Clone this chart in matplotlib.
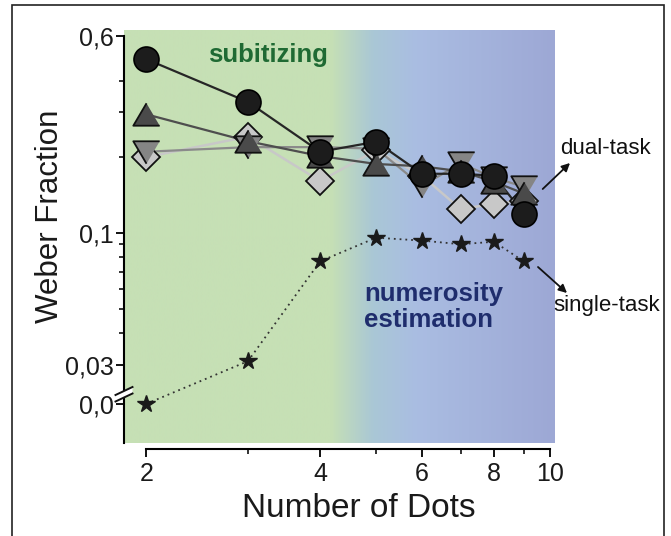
import numpy as np
import matplotlib
matplotlib.use('Agg')
import matplotlib.pyplot as plt
from matplotlib.colors import LinearSegmentedColormap
from matplotlib.ticker import FixedLocator, FixedFormatter, NullFormatter
from matplotlib.patches import Rectangle, Polygon

plt.rcParams['font.family'] = ['Liberation Sans', 'DejaVu Sans']

# ---------------- data ----------------
dots = [2, 3, 4, 5, 6, 7, 8, 9]
dual_circle = [0.486, 0.329, 0.209, 0.229, 0.171, 0.171, 0.168, 0.119]
dual_tri_up = [0.294, 0.230, 0.201, 0.187, 0.183, 0.175, 0.159, 0.143]
dual_tri_down = [0.209, 0.218, 0.218, 0.215, 0.153, 0.188, 0.165, 0.152]
dual_diamond = [0.199, 0.240, 0.160, 0.212, 0.168, 0.124, 0.130, 0.134]
single_task = [0.0, 0.031, 0.077, 0.0955, 0.093, 0.090, 0.092, 0.077]

x_ticks = [2, 4, 6, 8, 10]
x_tick_labels = ['2', '4', '6', '8', '10']
x_minor = [3, 5, 7, 9]
y_ticks = [0.6, 0.1, 0.03]
y_tick_labels = ['0,6', '0,1', '0,03']
y_minor = [0.04, 0.05, 0.06, 0.07, 0.08, 0.09, 0.2, 0.3, 0.4]
zero_label = '0,0'
ZERO_POS = 0.021  # position of zero below the axis break

W, H = 671, 536
fig = plt.figure(figsize=(W / 100, H / 100), dpi=100)
rect = [124 / W, 1 - 443 / H, 431 / W, 413 / H]

# background gradient
bg = fig.add_axes(rect, zorder=0)
cmap = LinearSegmentedColormap.from_list('bg', [
    (0.0, '#c6e0b5'), (0.48, '#c6e0b5'), (0.58, '#a9c7d6'),
    (0.68, '#aabde2'), (1.0, '#9da8d5')])
bg.imshow(np.linspace(0, 1, 600).reshape(1, -1), cmap=cmap, aspect='auto',
          extent=[0, 1, 0, 1])
bg.set_xlim(0, 1); bg.set_ylim(0, 1)
bg.axis('off')

ax = fig.add_axes(rect, zorder=1)
ax.patch.set_visible(False)
ax.set_xscale('log')
ax.set_yscale('log')

# lines
line_specs = [
    (dual_diamond, '#c8c8c8', 1.8),
    (dual_tri_down, '#8a8a8a', 1.6),
    (dual_tri_up, '#4e4e4e', 1.6),
    (dual_circle, '#262626', 1.6),
]
for vals, col, lw in line_specs:
    ax.plot(dots, vals, '-', color=col, lw=lw, zorder=2)

tri_up = [(0, 0.85), (-1, -0.85), (1, -0.85)]
tri_down = [(0, -0.85), (-1, 0.85), (1, 0.85)]

ax.plot(dots, dual_diamond, linestyle='none', marker='D', ms=14, mfc='#c8c8c8',
        mec='#111111', mew=1.3, zorder=3)
ax.plot(dots, dual_tri_down, linestyle='none', marker=tri_down, ms=19, mfc='#858585',
        mec='#111111', mew=1.3, zorder=4)
ax.plot(dots, dual_tri_up, linestyle='none', marker=tri_up, ms=19, mfc='#4a4a4a',
        mec='#111111', mew=1.3, zorder=5)
ax.plot(dots, dual_circle, linestyle='none', marker='o', ms=18, mfc='#1c1c1c',
        mec='#000000', mew=1.2, zorder=6)

single_plot = [ZERO_POS if v == 0 else v for v in single_task]
ax.plot(dots, single_plot, linestyle=(0, (1, 2.2)), color='#333333', lw=1.3,
        marker='*', ms=13, mfc='#1a1a1a', mec='#1a1a1a', zorder=3)

ax.set_xlim(1.83, 10.2)
ax.set_ylim(0.0147, 0.634)

# spines
for s in ['top', 'right']:
    ax.spines[s].set_visible(False)
ax.spines['bottom'].set_position(('outward', 4))
ax.spines['bottom'].set_bounds(2, 10)
ax.spines['left'].set_bounds(0.0147, 0.6)
for s in ['bottom', 'left']:
    ax.spines[s].set_linewidth(1.5)

ax.xaxis.set_major_locator(FixedLocator(x_ticks))
ax.xaxis.set_major_formatter(FixedFormatter(x_tick_labels))
ax.xaxis.set_minor_locator(FixedLocator(x_minor))
ax.xaxis.set_minor_formatter(NullFormatter())
ax.yaxis.set_major_locator(FixedLocator(y_ticks + [ZERO_POS]))
ax.yaxis.set_major_formatter(FixedFormatter(y_tick_labels + [zero_label]))
ax.yaxis.set_minor_locator(FixedLocator(y_minor))
ax.yaxis.set_minor_formatter(NullFormatter())
ax.tick_params(which='major', length=6, width=1.4, labelsize=18,
               color='#111111', labelcolor='#1a1a1a')
ax.tick_params(axis='x', which='major', pad=4)
ax.tick_params(axis='y', which='major', pad=1.5)
ax.tick_params(which='minor', length=3.5, width=1.2, color='#111111')

# axis break marks
yb1 = (443 - 391) / 413
yb2 = (443 - 397.5) / 413
dx = 8.5 / 431
dy = 4 / 413
ax.add_patch(Polygon([(-dx, yb2 - dy), (dx, yb2 + dy), (dx, yb1 + dy), (-dx, yb1 - dy)],
                     closed=True, transform=ax.transAxes, fc='white', ec='none',
                     clip_on=False, zorder=7))
for yb in (yb1, yb2):
    ax.plot([-dx, dx], [yb - dy, yb + dy], transform=ax.transAxes, color='#111111',
            lw=1.4, clip_on=False, zorder=8)

# labels
ax.set_xlabel('Number of Dots', fontsize=24, color='#1a1a1a')
ax.xaxis.set_label_coords((358.5 - 124) / 431, (443 - 517) / 413)
ax.xaxis.label.set_va('baseline')
ax.set_ylabel('Weber Fraction', fontsize=22.5, color='#1a1a1a')
ax.yaxis.set_label_coords((58 - 124) / 431, (443 - 216) / 413)
ax.yaxis.label.set_va('baseline')

ax.text((268 - 124) / 431, (443 - 55) / 413, 'subitizing', transform=ax.transAxes,
        ha='center', va='center', fontsize=18.5, fontweight='bold', color='#1f6a33')
ax.text((364 - 124) / 431, (443 - 307) / 413, 'numerosity\nestimation',
        transform=ax.transAxes, ha='left', va='center', fontsize=18.5,
        fontweight='bold', color='#1f2d6d', linespacing=1.1)

# annotations
fig.text(560 / W, 1 - 148 / H, 'dual-task', fontsize=16, ha='left', va='center',
         color='#111111')
fig.text(553 / W, 1 - 305 / H, 'single-task', fontsize=16, ha='left', va='center',
         color='#111111')
ax.annotate('', xy=(570, H - 163), xytext=(542.7, H - 189), xycoords='figure pixels',
            textcoords='figure pixels',
            arrowprops=dict(arrowstyle='-|>', lw=1.3, color='#111111', mutation_scale=12,
                            shrinkA=0, shrinkB=0))
ax.annotate('', xy=(567, H - 293), xytext=(538, H - 267), xycoords='figure pixels',
            textcoords='figure pixels',
            arrowprops=dict(arrowstyle='-|>', lw=1.3, color='#111111', mutation_scale=12,
                            shrinkA=0, shrinkB=0))

# outer frame
fig.add_artist(Rectangle((12 / W, -0.02), (664 - 12) / W, 1.02 - 5 / H,
                         transform=fig.transFigure, fill=False, lw=1.2, ec='#222222'))

fig.savefig('out.png', dpi=100)
